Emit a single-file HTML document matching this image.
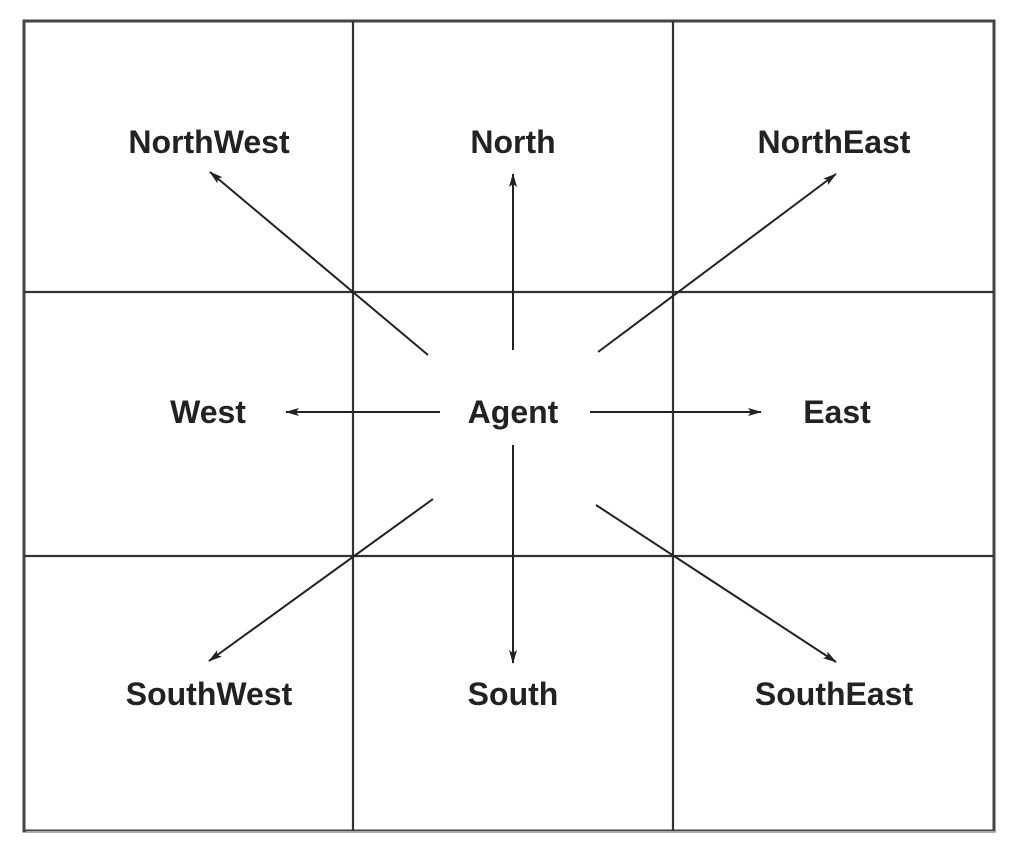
<!DOCTYPE html>
<html><head><style>
html,body{margin:0;padding:0;background:#fff;}
svg{display:block;}
text{font-family:"Liberation Sans",Arial,sans-serif;font-weight:bold;font-size:32px;fill:#222;text-anchor:middle;}
</style></head><body>
<svg width="1018" height="855" viewBox="0 0 1018 855" xmlns="http://www.w3.org/2000/svg">
<defs>
<marker id="a" markerWidth="14" markerHeight="10" refX="13" refY="5" orient="auto" markerUnits="userSpaceOnUse">
<path d="M0,1 L14,5 L0,9 L3,5 Z" fill="#222"/>
</marker>
</defs>
<rect x="24" y="21" width="970" height="810" fill="none" stroke="#444" stroke-width="3"/>
<line x1="26" y1="832" x2="995" y2="832" stroke="#aaa" stroke-width="2"/>
<g stroke="#333" stroke-width="2.2">
<line x1="353" y1="21" x2="353" y2="831"/>
<line x1="673" y1="21" x2="673" y2="831"/>
<line x1="24" y1="292" x2="994" y2="292"/>
<line x1="24" y1="556" x2="994" y2="556"/>
</g>
<g stroke="#222" stroke-width="2" marker-end="url(#a)">
<line x1="428" y1="355" x2="210" y2="172"/>
<line x1="513" y1="350" x2="513" y2="174"/>
<line x1="598" y1="352" x2="836" y2="174"/>
<line x1="440" y1="412" x2="286" y2="412"/>
<line x1="590" y1="412" x2="761" y2="412"/>
<line x1="433" y1="499" x2="209" y2="661"/>
<line x1="513" y1="445" x2="513" y2="663"/>
<line x1="596" y1="505" x2="836" y2="662"/>
</g>
<text x="209" y="153">NorthWest</text>
<text x="513" y="153">North</text>
<text x="834" y="153">NorthEast</text>
<text x="208" y="423">West</text>
<text x="513" y="423">Agent</text>
<text x="837" y="423">East</text>
<text x="209" y="705">SouthWest</text>
<text x="513" y="705">South</text>
<text x="834" y="705">SouthEast</text>
</svg>
</body></html>
